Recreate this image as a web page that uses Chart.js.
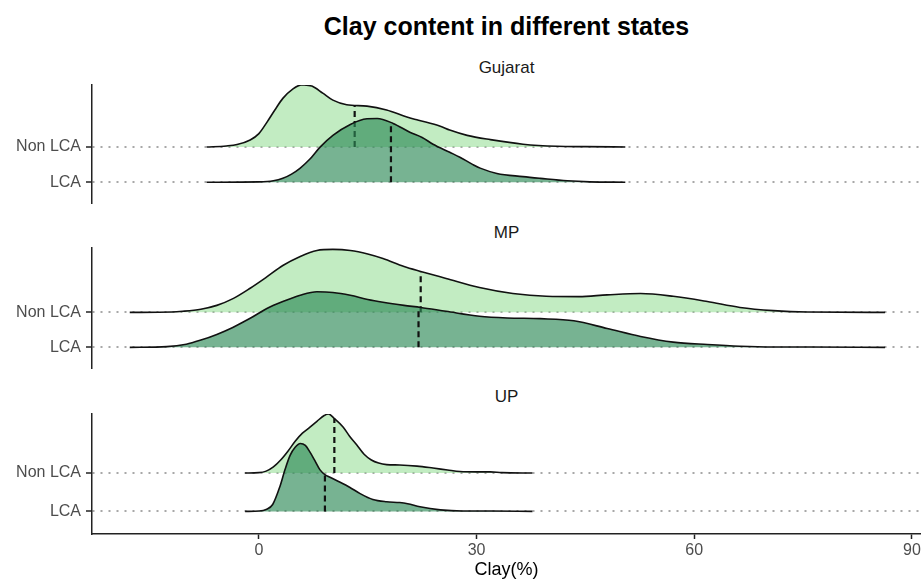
<!DOCTYPE html>
<html>
<head>
<meta charset="utf-8">
<script src="https://cdn.jsdelivr.net/npm/chart.js@4.4.0/dist/chart.umd.min.js"></script>
<style>
  body { margin: 0; background: #fff; font-family: 'Liberation Sans', Arial, sans-serif; }
  #wrap { position: relative; width: 921px; height: 586px; overflow: hidden; }
  .label { position: absolute; left: 92px; width: 829px; text-align: center; line-height: 1; }
  #title { top: 14px; font-size: 25px; font-weight: bold; color: #000; }
  .strip { font-size: 17px; color: #1a1a1a; }
  canvas { position: absolute; left: 0; }
</style>
</head>
<body>
<div id="wrap">
  <div id="title" class="label">Clay content in different states</div>
  <div class="label strip" style="top:59px">Gujarat</div>
  <div class="label strip" style="top:224px">MP</div>
  <div class="label strip" style="top:388px">UP</div>
  <canvas id="gujarat" width="921" height="130" style="top:80px"></canvas>
  <canvas id="mp" width="921" height="130" style="top:243px"></canvas>
  <canvas id="up" width="921" height="177" style="top:409px"></canvas>
</div>
<script>
const xTicks = [0, 30, 60, 90];
const groups = ['LCA', 'Non LCA']; // baseline 0 and 1

// ridge heights are in units of the row spacing
const gujaratNonX = [-7.2, -4.5, -3, -1.2, 0, 1.1, 2.2, 3.3, 4.7, 5.9, 7.3, 8.8, 10.2, 12.1, 14.9, 17.6, 20.4, 22, 25, 26.3, 28.7, 31.9, 36.4, 41.1, 45, 50.5];
const gujaratNonH = [0, 0.03, 0.07, 0.2, 0.38, 0.7, 1.05, 1.38, 1.65, 1.77, 1.73, 1.53, 1.33, 1.2, 1.16, 1.05, 0.85, 0.76, 0.59, 0.48, 0.33, 0.21, 0.08, 0.02, 0.01, 0];
const gujaratLcaX = [-7.2, 0, 2, 3.3, 4.5, 5.7, 7, 8.4, 10.2, 12.6, 14.9, 16.3, 18.5, 20.8, 22.5, 24, 26.3, 27.7, 29.5, 30.5, 32.8, 36.4, 38.8, 42.5, 45.6, 50.5];
const gujaratLcaH = [0, 0.01, 0.04, 0.11, 0.23, 0.4, 0.65, 0.99, 1.33, 1.64, 1.8, 1.81, 1.67, 1.42, 1.27, 1.08, 0.85, 0.71, 0.5, 0.4, 0.25, 0.16, 0.11, 0.04, 0.01, 0];
const gujaratMedians = [18.2, 13.2]; // LCA, Non LCA

const mpNonX = [-17.8, -12, -10.5, -8, -5.8, -3.5, -1.2, 1, 3.3, 5.7, 8, 10.2, 12.6, 15, 17.1, 20, 22.3, 25.8, 30.4, 35, 39.6, 44.1, 48, 52.6, 57.1, 61.8, 66.3, 70.9, 75.6, 86.3];
const mpNonH = [0, 0.01, 0.03, 0.09, 0.2, 0.4, 0.69, 1, 1.34, 1.6, 1.77, 1.8, 1.77, 1.67, 1.54, 1.31, 1.17, 0.97, 0.71, 0.54, 0.46, 0.45, 0.5, 0.54, 0.46, 0.31, 0.14, 0.05, 0.01, 0];
const mpLcaX = [-17.8, -12.7, -10, -8.1, -5.8, -3.6, -1.2, 1.1, 3.3, 5.7, 8, 10.2, 12.6, 15, 17.1, 20, 22.3, 25.8, 30.4, 34.2, 38.8, 43.4, 48, 52.6, 57.1, 61.8, 66.3, 70.9, 76, 86.3];
const mpLcaH = [0, 0.02, 0.09, 0.2, 0.37, 0.57, 0.83, 1.11, 1.31, 1.49, 1.59, 1.57, 1.49, 1.37, 1.29, 1.2, 1.14, 1.03, 0.89, 0.84, 0.82, 0.76, 0.54, 0.31, 0.15, 0.08, 0.03, 0.01, 0.01, 0];
const mpMedians = [22.0, 22.3];

const upNonX = [-1.9, 0, 1, 2, 3, 4, 5, 6, 7, 8, 9, 9.6, 10.4, 11.6, 12.5, 13.5, 14.5, 15.5, 16.5, 17.6, 19.4, 21.8, 24, 26, 27.7, 30, 31.9, 33.5, 37.7];
const upNonH = [0, 0.01, 0.05, 0.16, 0.34, 0.57, 0.83, 1.04, 1.19, 1.35, 1.5, 1.54, 1.42, 1.2, 0.96, 0.73, 0.49, 0.34, 0.26, 0.22, 0.21, 0.18, 0.13, 0.08, 0.04, 0.03, 0.03, 0.01, 0];
const upLcaX = [-1.9, 0, 1, 1.9, 2.9, 3.6, 4.3, 5, 5.7, 6.4, 7, 7.7, 8.4, 9.1, 9.8, 11.2, 12.5, 13.9, 15.7, 17.6, 19.4, 20.5, 22.2, 25, 28, 32, 37.7];
const upLcaH = [0, 0.01, 0.05, 0.18, 0.65, 1.09, 1.46, 1.67, 1.77, 1.72, 1.56, 1.33, 1.09, 0.96, 0.89, 0.76, 0.63, 0.47, 0.31, 0.25, 0.23, 0.2, 0.12, 0.04, 0.01, 0.01, 0];
const upMedians = [9.1, 10.4];

const lightFill = 'rgba(144, 220, 144, 0.55)';
const darkFill = 'rgba(46, 139, 87, 0.65)';

Chart.defaults.font.family = "'Liberation Sans', Arial, sans-serif";

// linear lookup of a ridge height, used for the top of the median line
function heightAt(xs, hs, x) {
  for (let i = 1; i < xs.length; i++) {
    if (x <= xs[i]) {
      let t = (x - xs[i - 1]) / (xs[i] - xs[i - 1]);
      return hs[i - 1] + t * (hs[i] - hs[i - 1]);
    }
  }
  return 0;
}

function ridge(xs, hs, base, fill, order) {
  return {
    data: xs.map((x, i) => ({ x: x, y: base + hs[i] })),
    borderColor: '#111',
    borderWidth: 1.6,
    backgroundColor: fill,
    fill: { value: base },
    pointRadius: 0,
    cubicInterpolationMode: 'monotone',
    order: order,
  };
}

function medianLine(xs, hs, base, m, order) {
  return {
    data: [{ x: m, y: base }, { x: m, y: base + heightAt(xs, hs, m) }],
    borderColor: '#111',
    borderWidth: 2.2,
    borderDash: [6, 4],
    pointRadius: 0,
    fill: false,
    order: order,
  };
}

function makePanel(id, nonX, nonH, lcaX, lcaH, medians, yMax, padBottom, showX) {
  let ctx = document.getElementById(id).getContext('2d');
  const data = {
    datasets: [
      medianLine(lcaX, lcaH, 0, medians[0], 0),
      ridge(lcaX, lcaH, 0, darkFill, 1),
      medianLine(nonX, nonH, 1, medians[1], 2),
      ridge(nonX, nonH, 1, lightFill, 3),
    ],
  };
  const config = {
    type: 'line',
    data: data,
    options: {
      responsive: false,
      animation: false,
      layout: { padding: { top: 5, bottom: padBottom, left: 0, right: 0 } },
      plugins: { legend: { display: false }, tooltip: { enabled: false } },
      scales: {
        x: {
          type: 'linear',
          min: -23,
          max: 91.25,
          display: showX,
          afterBuildTicks: (s) => { s.ticks = xTicks.map((v) => ({ value: v })); },
          afterFit: (s) => {
            if (showX) s.height = 52;
            s.paddingLeft = 0;
            s.paddingRight = 0;
          },
          grid: { drawOnChartArea: false, tickLength: 5, tickColor: '#222', tickWidth: 1.5 },
          border: { color: '#222', width: 1.5 },
          ticks: { padding: 2, color: '#4d4d4d', font: { size: 16 }, maxRotation: 0 },
          title: { display: true, text: 'Clay(%)', color: '#000', font: { size: 18 }, padding: { top: 0, bottom: 5 } },
        },
        y: {
          type: 'linear',
          min: -0.59,
          max: yMax,
          afterBuildTicks: (s) => { s.ticks = [0, 1].map((v) => ({ value: v })); },
          afterFit: (s) => {
            s.width = 92;
            s.paddingTop = 0;
            s.paddingBottom = 0;
          },
          grid: { color: '#a8a8a8', lineWidth: 2, tickLength: 6, tickColor: '#222', tickWidth: 1.5, tickBorderDash: [] },
          border: { color: '#222', width: 1.5, dash: [2, 6] },
          ticks: { padding: 5, color: '#4d4d4d', font: { size: 16 }, callback: (v) => groups[v] },
        },
      },
    },
  };
  new Chart(ctx, config);
}

makePanel('gujarat', gujaratNonX, gujaratNonH, gujaratLcaX, gujaratLcaH, gujaratMedians, 2.76, 7, false);
makePanel('mp', mpNonX, mpNonH, mpLcaX, mpLcaH, mpMedians, 2.84, 5, false);
makePanel('up', upNonX, upNonH, upLcaX, upLcaH, upMedians, 2.54, 0, true);
</script>
</body>
</html>
